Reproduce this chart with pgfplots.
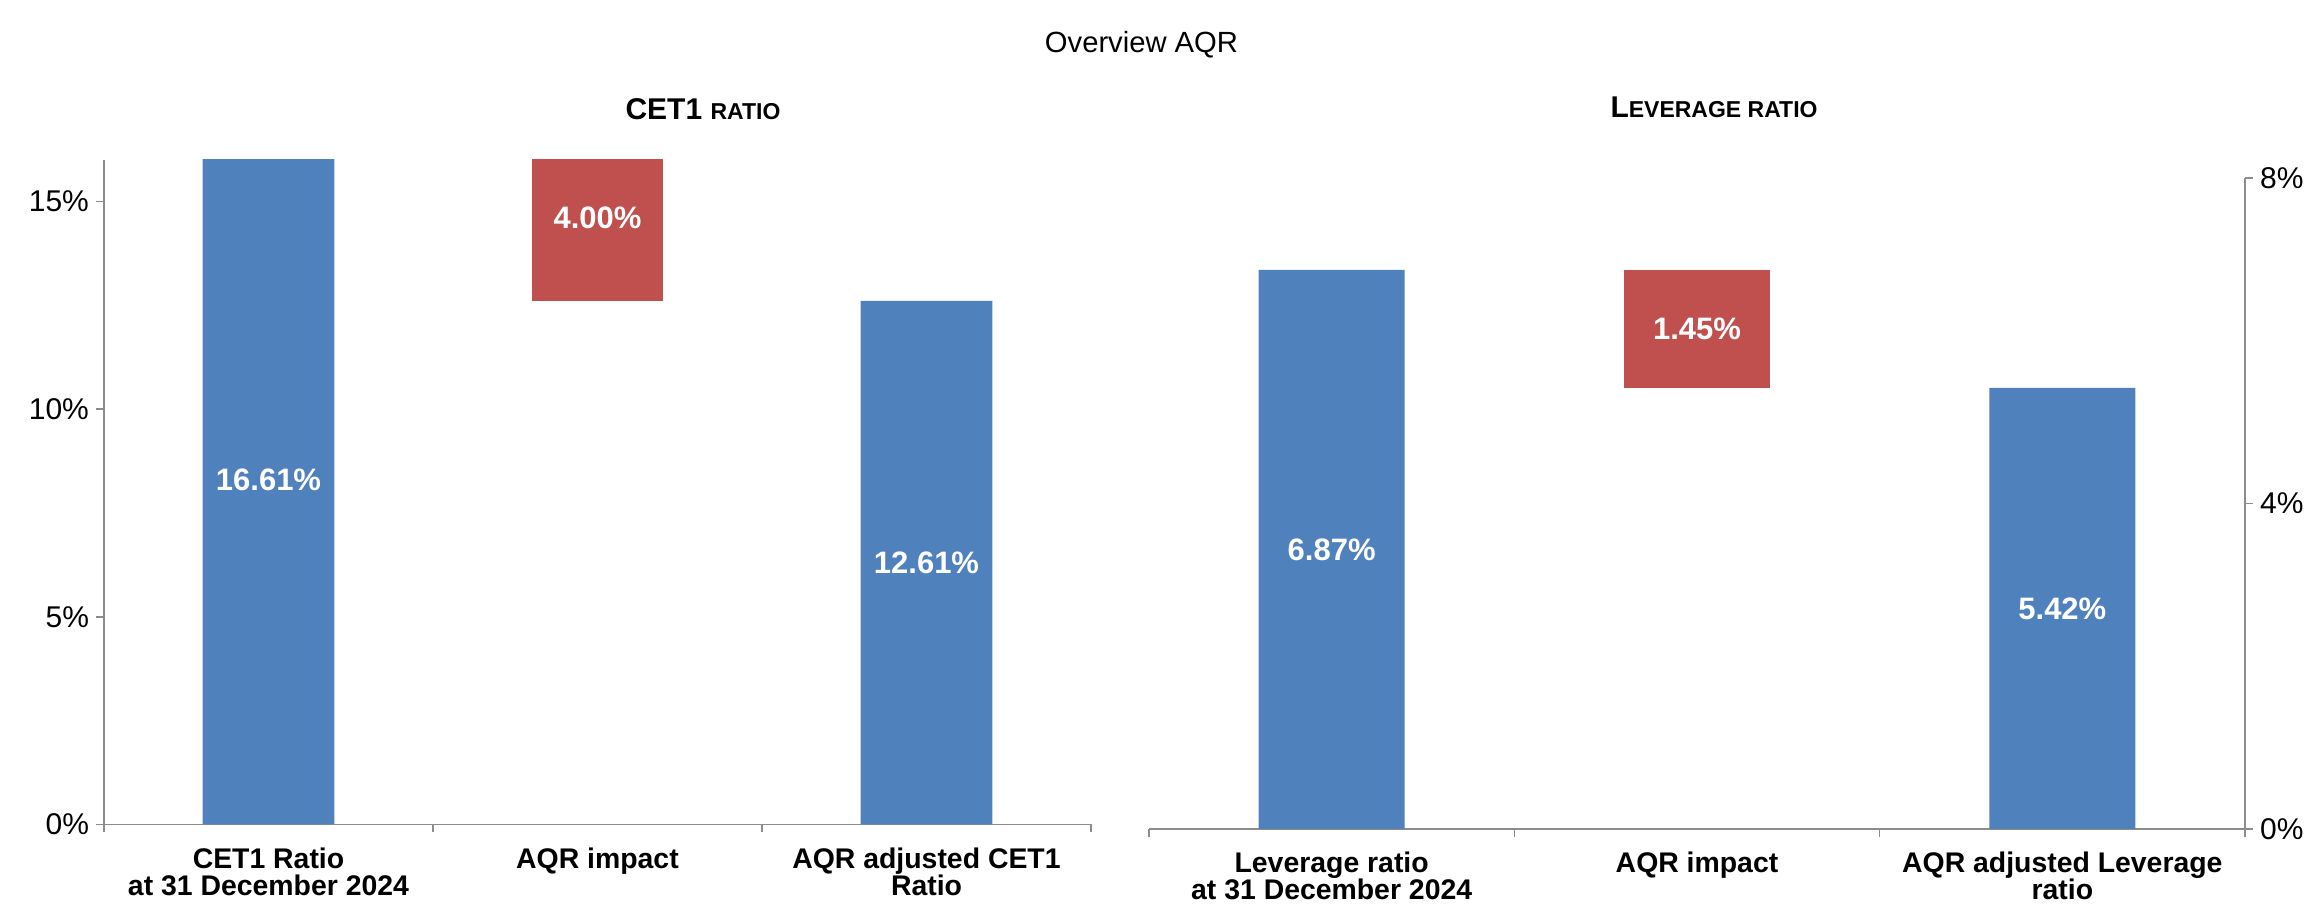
\documentclass[border=0pt]{standalone}
\usepackage{fontspec}
\setmainfont{Liberation Sans}
\usepackage{pgfplots}
\pgfplotsset{compat=1.18}
\definecolor{barblue}{HTML}{4F81BD}
\definecolor{barred}{HTML}{C0504D}
\definecolor{axgray}{HTML}{8C8C8C}

\pgfplotsset{
  wbase/.style={
    scale only axis, anchor=south west,
    xmin=-0.5, xmax=2.5, ymin=0,
    enlargelimits=false,
    /pgf/number format/assume math mode=true,
  },
  wfall/.style={
    wbase,
    ybar stacked, bar width=0.4,
    axis x line*=bottom,
    axis line style={axgray, line width=0.75pt, -},
    xtick={-0.5,0.5,1.5,2.5},
    x tick label as interval=true,
    tick align=outside,
    major tick length=4pt,
    every tick/.style={axgray, line width=0.75pt},
    xticklabel style={align=center, font=\bfseries\fontsize{14.2}{13.5}\selectfont, text=black, yshift=-4pt},
    yticklabel style={font=\fontsize{15}{17}\selectfont, text=black},
    yticklabel={\pgfmathprintnumber{\tick}\%},
  },
  vlabels/.style={
    wbase, hide axis,
  },
  lab/.style={
    only marks, mark=*, mark size=0pt, mark options={draw=none, fill=none},
    point meta=explicit symbolic,
    nodes near coords={\pgfplotspointmeta\%},
    nodes near coords style={anchor=center, text=white, font=\bfseries\fontsize{15.5}{17}\selectfont},
  },
}

\begin{document}
\begin{tikzpicture}
\useasboundingbox (0,0) rectangle (1159.5pt,456.5pt);

\node[anchor=base, font=\fontsize{14.6}{16}\selectfont] at (570.75pt,430.2pt) {Overview AQR};
\node[anchor=base, font=\bfseries] at (351.5pt,396.5pt) {\fontsize{15}{17}\selectfont CET1 \fontsize{11.5}{13}\selectfont RATIO};
\node[anchor=base, font=\bfseries] at (857pt,397.9pt) {\fontsize{15}{17}\selectfont L\fontsize{11.5}{13}\selectfont EVERAGE RATIO};

% ---- CET1 ratio ----
\begin{axis}[wfall, at={(52pt,44.25pt)}, width=493.5pt, height=332.25pt,
  ymax=16, ytick={0,5,10,15},
  axis y line*=left,
  xticklabels={{CET1 Ratio\\at 31 December 2024},{AQR impact},{AQR adjusted CET1\\Ratio}},
]
\addplot[fill=none, draw=none] coordinates {(0,0) (1,12.61) (2,0)};
\addplot[fill=barred, draw=none] coordinates {(0,0) (1,4.00) (2,0)};
\addplot[fill=barblue, draw=none] coordinates {(0,16.61) (1,0) (2,12.61)};
\end{axis}
\begin{axis}[vlabels, at={(52pt,44.25pt)}, width=493.5pt, height=332.25pt, ymax=16]
\addplot[lab] table[meta=lab, row sep=\\] {
x y lab \\
0 8.305 16.61 \\
1 14.61 4.00 \\
2 6.305 12.61 \\
};
\end{axis}

% ---- Leverage ratio ----
\begin{axis}[wfall, at={(574.5pt,42pt)}, width=548pt, height=325.5pt,
  ymax=8, ytick={0,4,8},
  axis y line*=right,
  xticklabels={{Leverage ratio\\at 31 December 2024},{AQR impact},{AQR adjusted Leverage\\ratio}},
]
\addplot[fill=none, draw=none] coordinates {(0,0) (1,5.42) (2,0)};
\addplot[fill=barred, draw=none] coordinates {(0,0) (1,1.45) (2,0)};
\addplot[fill=barblue, draw=none] coordinates {(0,6.87) (1,0) (2,5.42)};
\end{axis}
\begin{axis}[vlabels, at={(574.5pt,42pt)}, width=548pt, height=325.5pt, ymax=8]
\addplot[lab] table[meta=lab, row sep=\\] {
x y lab \\
0 3.435 6.87 \\
1 6.145 1.45 \\
2 2.71 5.42 \\
};
\end{axis}
\end{tikzpicture}
\end{document}
